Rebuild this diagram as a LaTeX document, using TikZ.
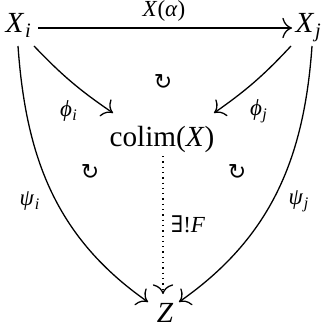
\documentclass[tikz,border=0pt]{standalone}
\usepackage{fontspec}
\usetikzlibrary{arrows.meta}
\setmainfont{Liberation Serif}
\newfontfamily\simbfont{DejaVu Sans}
\newfontfamily\logfont{DejaVu Serif}
\newcommand{\conpedice}[2]{\textit{#1}\kern0.02em\textsubscript{\textit{#2}}}
\begin{document}
\begin{tikzpicture}[
            x=0.5pt, y=-0.5pt,
            line width=0.65pt,
            >={Computer Modern Rightarrow[scale=1.6]},
            ogg/.style={font=\fontsize{14.6}{17}\selectfont, inner sep=0pt, anchor=base},
            etich/.style={font=\fontsize{11.5}{13}\selectfont, inner sep=1pt},
            giro/.style={font=\simbfont\fontsize{11}{13}\selectfont}
        ]
            \useasboundingbox (0,0) rectangle (323,326);

            % --- Oggetti del diagramma ---
            \node[ogg, anchor=base west] (Xi) at (5,33) {\conpedice{X}{i}};
            \node[ogg, anchor=base west] (Xj) at (295,33) {\conpedice{X}{j}};
            \node[ogg] (colim) at (162,146) {colim(\textit{X})};
            \node[ogg] (Z) at (165,322) {\textit{Z}};

            % --- Freccia in alto ---
            \coordinate (a0) at (38,28);
            \coordinate (a1) at (292,28);
            \draw[->] (a0) -- (a1);
            \node[etich, anchor=base] (alfa) at (164,17) {\textit{X}(\textit{α})};

            % --- Mappe verso il colimite ---
            \coordinate (pi0) at (34,46);
            \coordinate (pj0) at (291,46);
            \draw[->] (pi0) to[bend right=6] (113,113);
            \draw[->] (pj0) to[bend left=6] (214,113);
            \node[etich] (phii) at (69,111) {\conpedice{ϕ}{i}};
            \node[etich] (phij) at (259,111) {\conpedice{ϕ}{j}};

            % --- Mappe verso Z ---
            \coordinate (si0) at (18,46);
            \coordinate (sj0) at (312,46);
            \draw[->] (si0) to[out=-86, in=145] (148,302);
            \draw[->] (sj0) to[out=-94, in=35] (179,302);
            \node[etich] (psii) at (30,201) {\conpedice{ψ}{i}};
            \node[etich] (psij) at (299,201) {\conpedice{ψ}{j}};

            % Freccia tratteggiata (unica)
            \coordinate (f0) at (163,156);
            \coordinate (f1) at (163,294);
            \draw[->, dotted] (f0) -- (f1);
            \node[etich] (esF) at (188,224) {{\logfont ∃}!\textit{F}};

            % --- Simboli di commutativita' ---
            \node[giro] (c1) at (163,82) {↻};
            \node[giro] (c2) at (90,172) {↻};
            \node[giro] (c3) at (237,172) {↻};

    \end{tikzpicture}
\end{document}
